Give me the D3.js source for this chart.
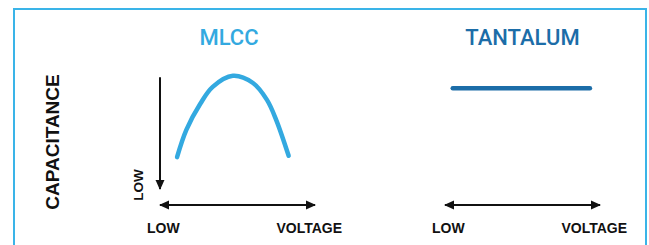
<!DOCTYPE html>
<html>
<head>
<meta charset="utf-8">
<script src="https://cdn.jsdelivr.net/npm/d3@7"></script>
<style>
  body { margin: 0; background: #fff; }
  .label { font-family: "Liberation Sans", Arial, sans-serif; font-weight: bold; fill: #111; }
  .title { font-family: Roboto, sans-serif; font-weight: 500; }
</style>
</head>
<body>
<div id="chart"></div>
<script>
var width = 649;
var height = 245;

// panel names and colours
var panels = ["MLCC", "TANTALUM"];
var panelColors = ["#33a9e0", "#1c6da8"];

// MLCC curve: voltage (0-10) vs capacitance (0-10)
var mlccVoltage = [1.1, 1.7, 2.6, 3.4, 4.7, 6.0, 6.9, 7.5, 8.3];
var mlccCap     = [3.3, 5.4, 7.4, 8.7, 9.55, 9.0, 7.7, 6.15, 3.4];

// Tantalum: flat
var tantVoltage = [0.5, 9.35];
var tantCap     = [8.6, 8.6];

// axis labels
var xLabels = ["LOW", "VOLTAGE"];
var yLabel = "CAPACITANCE";
var yLowLabel = "LOW";

var svg = d3.select("#chart").append("svg")
  .attr("width", width)
  .attr("height", height);

// frame
svg.append("rect")
  .attr("x", 14).attr("y", 9)
  .attr("width", 632).attr("height", 260)
  .attr("fill", "none")
  .attr("stroke", "#3ab4e8")
  .attr("stroke-width", 2);

// arrowhead marker
var defs = svg.append("defs");
defs.append("marker")
  .attr("id", "head")
  .attr("viewBox", "0 0 10 10")
  .attr("refX", 9).attr("refY", 5)
  .attr("markerWidth", 10).attr("markerHeight", 10)
  .attr("markerUnits", "userSpaceOnUse")
  .attr("orient", "auto-start-reverse")
  .append("path")
  .attr("d", "M0,0.5 L10,5 L0,9.5 z")
  .attr("fill", "#111");

var yScale = d3.scaleLinear().domain([0, 10]).range([200, 70]);
var xScales = [
  d3.scaleLinear().domain([0, 10]).range([160, 315]),
  d3.scaleLinear().domain([0, 10]).range([445, 600])
];
var titleX = [4.45, 5.0];
var axisY = 205;

var series = [
  d3.zip(mlccVoltage, mlccCap),
  d3.zip(tantVoltage, tantCap)
];

panels.forEach(function (name, i) {
  var x = xScales[i];
  var g = svg.append("g");

  // title
  g.append("text")
    .attr("class", "title")
    .attr("x", x(titleX[i]))
    .attr("y", 45)
    .attr("text-anchor", "middle")
    .attr("font-size", 22)
    .attr("fill", panelColors[i])
    .text(name);

  // horizontal double arrow
  g.append("line")
    .attr("x1", x.range()[0]).attr("x2", x.range()[1])
    .attr("y1", axisY).attr("y2", axisY)
    .attr("stroke", "#111")
    .attr("stroke-width", 2)
    .attr("marker-start", "url(#head)")
    .attr("marker-end", "url(#head)");

  // axis labels
  g.append("text")
    .attr("class", "label")
    .attr("x", x.range()[0] - 13)
    .attr("y", 233)
    .attr("font-size", 14)
    .text(xLabels[0]);
  g.append("text")
    .attr("class", "label")
    .attr("x", x.range()[1] + 27)
    .attr("y", 233)
    .attr("text-anchor", "end")
    .attr("font-size", 14)
    .text(xLabels[1]);

  // the line
  var line = d3.line()
    .x(function (d) { return x(d[0]); })
    .y(function (d) { return yScale(d[1]); })
    .curve(d3.curveCatmullRom);

  g.append("path")
    .datum(series[i])
    .attr("d", line)
    .attr("fill", "none")
    .attr("stroke", panelColors[i])
    .attr("stroke-width", 4.5)
    .attr("stroke-linecap", "round");
});

// vertical arrow (MLCC only), pointing down
svg.append("line")
  .attr("x1", xScales[0](0)).attr("x2", xScales[0](0))
  .attr("y1", yScale(9.45)).attr("y2", yScale(0.85))
  .attr("stroke", "#111")
  .attr("stroke-width", 2)
  .attr("marker-end", "url(#head)");

svg.append("text")
  .attr("class", "label")
  .attr("transform", "translate(143,185) rotate(-90)")
  .attr("text-anchor", "middle")
  .attr("font-size", 13.5)
  .text(yLowLabel);

svg.append("text")
  .attr("class", "label")
  .attr("transform", "translate(59,142) rotate(-90)")
  .attr("text-anchor", "middle")
  .attr("font-size", 19)
  .text(yLabel);
</script>
</body>
</html>
